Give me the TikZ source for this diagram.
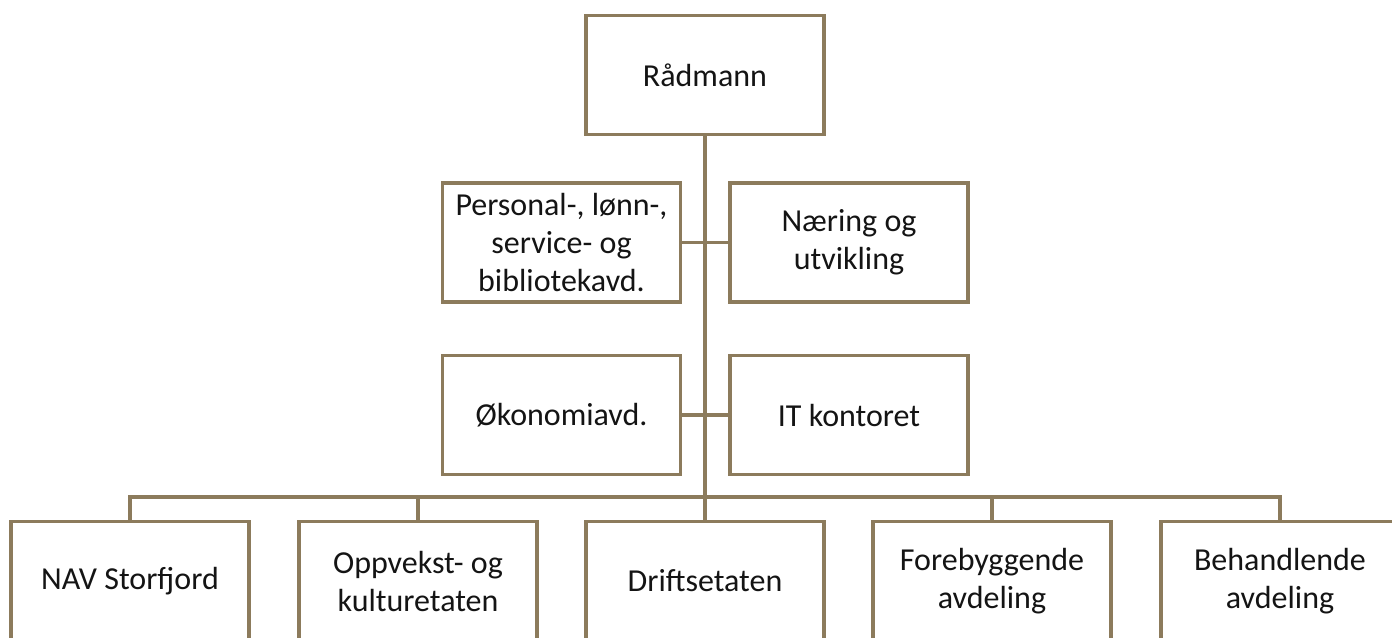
\documentclass[tikz,border=0pt]{standalone}
\usepackage{fontspec}
\setmainfont{Carlito}
\usepackage{xcolor}
\definecolor{orgbrown}{RGB}{140,123,92}
\definecolor{orgtext}{RGB}{20,20,20}

\tikzset{
  unit/.style={draw=orgbrown,line width=2.4pt,fill=white,rectangle,
    minimum width=238*0.75pt,minimum height=119*0.75pt,inner sep=0pt,
    align=center,text=orgtext,font=\fontsize{24}{28.5}\selectfont},
  link/.style={draw=orgbrown,line width=2.4pt}
}

\begin{document}
\begin{tikzpicture}[x=0.75pt,y=-0.75pt]
\useasboundingbox (0,0) rectangle (1392,637);
\clip (0,0) rectangle (1392,637);
% the boxes
\coordinate (bus) at (705,497);
\node[unit] (rad) at (705,75) {Rådmann};
\node[unit] (pers) at (561.5,242.5) {Personal-, lønn-,\\service- og\\bibliotekavd.};
\node[unit] (naer) at (849,242.5) {Næring og\\utvikling};
\node[unit] (oko) at (561.5,415) {Økonomiavd.};
\node[unit] (it) at (849,415) {IT kontoret};
\node[unit] (nav) at (130,581) {NAV Storfjord};
\node[unit] (oppv) at (418,581) {Oppvekst- og\\kulturetaten};
\node[unit] (drift) at (705,581) {Driftsetaten};
\node[unit] (fore) at (992,581) {Forebyggende\\avdeling};
\node[unit] (beh) at (1280,581) {Behandlende\\avdeling};

% the lines
\draw[link] (rad.south) -- (drift.north);
\draw[link] (pers.east) -- (naer.west);
\draw[link] (oko.east) -- (it.west);
\draw[link] (nav.north) -- (nav.north |- bus) -- (beh.north |- bus) -- (beh.north);
\foreach \n in {oppv,fore}
  \draw[link] (\n.north) -- (\n.north |- bus);
\end{tikzpicture}
\end{document}
